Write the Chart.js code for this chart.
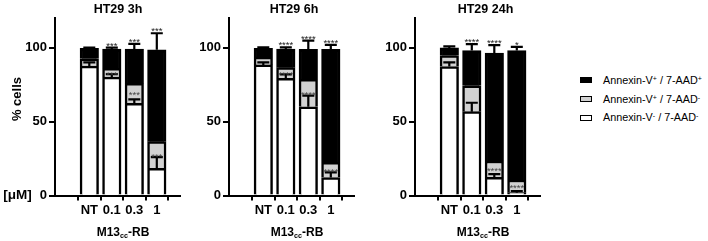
<!DOCTYPE html>
<html>
<head>
<meta charset="utf-8">
<script src="https://cdn.jsdelivr.net/npm/chart.js@4.4.1/dist/chart.umd.min.js"></script>
<style>
  html, body { margin:0; padding:0; background:#fff; }
  body { width:708px; height:241px; position:relative; overflow:hidden;
         font-family:"Liberation Sans", Arial, Helvetica, sans-serif; color:#000; }
  canvas { position:absolute; top:0; }
  .t { position:absolute; transform:translate(-50%,-50%); white-space:nowrap; font-weight:bold; line-height:1; }
  .t sub { font-size:0.6em; vertical-align:-0.25em; line-height:0; }
  .leg { position:absolute; left:580px; font-size:10.8px; line-height:1; white-space:nowrap; }
  .leg .sw { position:absolute; left:0; top:-3.5px; width:10px; height:4px; border:1.5px solid #000; }
  .leg .tx { position:absolute; left:23px; top:-6px; }
  .leg sup { font-size:0.65em; vertical-align:0.45em; line-height:0; }
</style>
</head>
<body>
<canvas id="c0" width="188" height="241" style="left:0px"></canvas>
<canvas id="c1" width="188" height="241" style="left:174px"></canvas>
<canvas id="c2" width="188" height="241" style="left:360px"></canvas>
<div id="texts"></div>
<script>
// ---------------- data ----------------
const categories = ['NT', '0.1', '0.3', '1'];
const panelTitles = ['HT29 3h', 'HT29 6h', 'HT29 24h'];
const xAxisTitle = 'M13<sub>cc</sub>-RB';
const yAxisTitle = '% cells';
const unitLabel = '[\u03BCM]';
const yTicks = [0, 50, 100];

// series: live (Annexin-V- / 7-AAD-), early apoptotic (Annexin-V+ / 7-AAD-), late (Annexin-V+ / 7-AAD+)
const seriesLabels = [
  'Annexin-V<sup>-</sup> / 7-AAD<sup>-</sup>',
  'Annexin-V<sup>+</sup> / 7-AAD<sup>-</sup>',
  'Annexin-V<sup>+</sup> / 7-AAD<sup>+</sup>'
];
const seriesColors = ['#ffffff', '#d2d2d2', '#000000'];

const live3h  = [87.5, 80.0, 62.3, 18.4];
const early3h = [4.9, 6.0, 13.5, 18.0];
const late3h  = [7.1, 13.0, 23.2, 62.1];
const liveSd3h = [2.5, 2.0, 2.7, 7.5];
const lateSd3h = [0.5, 1.0, 3.5, 11.2];
const topStars3h  = ['', '***', '***', '***'];
const grayStars3h = ['', '***', '***', '***'];

const live6h  = [88.3, 79.2, 60.0, 12.1];
const early6h = [5.2, 7.2, 18.6, 10.3];
const late6h  = [6.0, 12.6, 20.3, 76.5];
const liveSd6h = [1.7, 2.7, 7.5, 3.6];
const lateSd6h = [0.6, 1.2, 5.8, 2.9];
const topStars6h  = ['', '****', '****', '****'];
const grayStars6h = ['', '****', '****', '****'];

const live24h  = [87.2, 56.7, 12.3, 1.9];
const early24h = [7.4, 17.5, 11.0, 8.6];
const late24h  = [5.2, 23.8, 72.9, 87.5];
const liveSd24h = [2.8, 6.0, 2.2, 1.0];
const lateSd24h = [1.0, 4.3, 5.4, 2.5];
const topStars24h  = ['', '****', '****', '*'];
const grayStars24h = ['', '', '****', '****'];

// ---------------- layout ----------------
const FONT = '"Liberation Sans", Arial, Helvetica, sans-serif';
const panels = [
  { id:'c0', live:live3h,  early:early3h,  late:late3h,  liveSd:liveSd3h,  lateSd:lateSd3h,  top:topStars3h,  gray:grayStars3h },
  { id:'c1', live:live6h,  early:early6h,  late:late6h,  liveSd:liveSd6h,  lateSd:lateSd6h,  top:topStars6h,  gray:grayStars6h },
  { id:'c2', live:live24h, early:early24h, late:late24h, liveSd:liveSd24h, lateSd:lateSd24h, top:topStars24h, gray:grayStars24h }
];

const errStars = {
  id: 'errStars',
  afterDatasetsDraw(chart) {
    const o = chart.options.plugins.errStars;
    const ctx = chart.ctx, ys = chart.scales.y;
    const ds = chart.data.datasets;
    const sumTo = (d, i) => { let s = 0; for (let k = 0; k <= d; k++) s += ds[k].data[i].y; return s; };
    ctx.save();
    ctx.strokeStyle = '#000';
    ctx.lineWidth = 2.2;
    [[0, o.liveSd], [2, o.lateSd]].forEach(([d, sd]) => {
      const meta = chart.getDatasetMeta(d);
      meta.data.forEach((el, i) => {
        const py = ys.getPixelForValue(sumTo(d, i) + sd[i]);
        ctx.beginPath();
        ctx.moveTo(el.x, el.y);
        ctx.lineTo(el.x, py);
        ctx.moveTo(el.x - 6, py);
        ctx.lineTo(el.x + 6, py);
        ctx.stroke();
      });
    });
    ctx.textAlign = 'center';
    ctx.textBaseline = 'alphabetic';
    ctx.font = '9.5px ' + FONT;
    const meta2 = chart.getDatasetMeta(2);
    meta2.data.forEach((el, i) => {
      if (o.top[i]) {
        const py = ys.getPixelForValue(sumTo(2, i) + o.lateSd[i]);
        ctx.fillStyle = '#222';
        ctx.fillText(o.top[i], el.x, py + 1);
      }
      if (o.gray[i]) {
        const mid = ds[0].data[i].y + ds[1].data[i].y / 2;
        const py = ys.getPixelForValue(mid);
        ctx.fillStyle = '#444';
        ctx.fillText(o.gray[i], el.x, py + 5);
      }
    });
    ctx.restore();
  }
};

panels.forEach((p) => {
  const series = [p.live, p.early, p.late];
  new Chart(document.getElementById(p.id), {
    type: 'bar',
    data: {
      datasets: series.map((vals, s) => ({
        label: seriesLabels[s],
        data: vals.map((v, i) => ({ x: i, y: v })),
        backgroundColor: seriesColors[s],
        borderColor: '#000',
        borderWidth: 2.5,
        barThickness: 18.5
      }))
    },
    options: {
      responsive: false,
      animation: false,
      devicePixelRatio: 1,
      layout: { padding: { top: 18, right: 8.5, left: 0, bottom: 0 } },
      plugins: {
        legend: { display: false },
        tooltip: { enabled: false },
        errStars: { liveSd: p.liveSd, lateSd: p.lateSd, top: p.top, gray: p.gray }
      },
      scales: {
        x: {
          type: 'linear',
          stacked: true,
          min: -0.833, max: 3.317,
          afterBuildTicks: (sc) => { sc.ticks = categories.map((c, i) => ({ value: i })); },
          afterFit: (sc) => { sc.height = 45.5; },
          ticks: {
            callback: (v) => categories[v],
            autoSkip: false, maxRotation: 0, padding: 2,
            color: '#000', font: { family: FONT, size: 13, weight: 'bold' }
          },
          grid: { drawOnChartArea: false, drawTicks: true, tickLength: 5, color: '#000', lineWidth: 2 },
          border: { display: true, color: '#000', width: 2 }
        },
        y: {
          stacked: true,
          min: 0, max: 120,
          afterBuildTicks: (sc) => { sc.ticks = yTicks.map(v => ({ value: v })); },
          afterFit: (sc) => { sc.width = 55; },
          ticks: {
            padding: 2, color: '#000',
            font: { family: FONT, size: 13, weight: 'bold' }
          },
          grid: { drawOnChartArea: false, drawTicks: true, tickLength: 6, color: '#000', lineWidth: 2 },
          border: { display: true, color: '#000', width: 2 }
        }
      }
    },
    plugins: [errStars]
  });
});

// ---------------- text (titles, axis titles, legend) ----------------
const texts = document.getElementById('texts');
function addText(html, x, y, size, extra) {
  const d = document.createElement('div');
  d.className = 't';
  d.innerHTML = html;
  d.style.left = x + 'px';
  d.style.top = y + 'px';
  d.style.fontSize = size + 'px';
  if (extra) d.style.transform = extra;
  texts.appendChild(d);
}
const titleX = [118, 294, 485.5];
const xTitleX = [123, 297, 483];
panelTitles.forEach((t, i) => addText(t, titleX[i], 8.5, 12.5));
xTitleX.forEach((x) => addText(xAxisTitle, x, 232, 12));
addText(yAxisTitle, 16, 98.5, 13, 'translate(-50%,-50%) rotate(-90deg)');
addText(unitLabel, 17.5, 195, 13.5);

const legendRows = [2, 1, 0];
const legendY = [80.7, 99.5, 118.3];
legendRows.forEach((s, r) => {
  const row = document.createElement('div');
  row.className = 'leg';
  row.style.top = legendY[r] + 'px';
  row.innerHTML = '<span class="sw" style="background:' + seriesColors[s] + '"></span><span class="tx">' + seriesLabels[s] + '</span>';
  texts.appendChild(row);
});
</script>
</body>
</html>
